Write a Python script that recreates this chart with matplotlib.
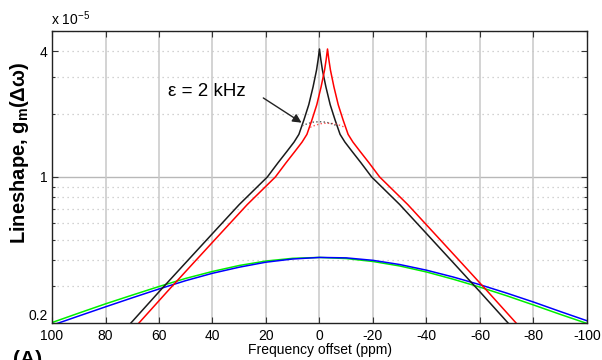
import matplotlib
matplotlib.use("Agg")
import matplotlib.pyplot as plt

plt.rcParams['font.family'] = ['Liberation Sans', 'DejaVu Sans']
plt.rcParams['mathtext.default'] = 'regular'

# lineshapes in units of 1e-5
black_x = [75, 70.5, 60, 50, 40, 30, 19.5, 15.5, 12.1, 9.5, 7.7, 5.8, 4.0, 2.4, 1.1, 0.5, 0,
           -0.5, -1.1, -2.4, -4.0, -5.8, -7.7, -9.5, -12.1, -15.5, -19.5, -30, -40, -50, -60, -70.5, -75]
black_y = [0.175, 0.2, 0.282, 0.389, 0.536, 0.738, 1.0, 1.17, 1.33, 1.47, 1.60, 1.88, 2.22, 2.70, 3.25, 3.65, 4.1,
           3.65, 3.25, 2.70, 2.22, 1.88, 1.60, 1.47, 1.33, 1.17, 1.0, 0.738, 0.536, 0.389, 0.282, 0.2, 0.175]

red_x = [72, 67.5, 57, 47, 37, 27, 16.5, 12.5, 9.1, 6.5, 4.7, 2.8, 1.0, -0.6, -1.9, -2.5, -3,
         -3.5, -4.1, -5.4, -7.0, -8.8, -10.7, -12.5, -15.1, -18.5, -22.5, -33, -43, -53, -63, -73.5, -78]
red_y = [0.175, 0.2, 0.282, 0.389, 0.536, 0.738, 1.0, 1.17, 1.33, 1.47, 1.60, 1.88, 2.22, 2.70, 3.25, 3.65, 4.1,
         3.65, 3.25, 2.70, 2.22, 1.88, 1.60, 1.47, 1.33, 1.17, 1.0, 0.738, 0.536, 0.389, 0.282, 0.2, 0.175]

# broadened tops (eps = 2 kHz)
cap_black_x = [6.5, 4.5, 2.5, 0, -2.5, -4.5, -6.5]
cap_black_y = [1.76, 1.80, 1.83, 1.84, 1.83, 1.80, 1.76]
cap_red_x = [3.5, 1.5, -0.5, -2.5, -5.5, -7.5, -9.5]
cap_red_y = [1.73, 1.77, 1.80, 1.81, 1.80, 1.77, 1.73]

broad_x = [100, 90, 80, 70, 60, 50, 40, 30, 20, 10, 0,
           -10, -20, -30, -40, -50, -60, -70, -80, -90, -100]
green_y = [0.201, 0.223, 0.247, 0.272, 0.299, 0.327, 0.353, 0.377, 0.396, 0.408, 0.412,
           0.407, 0.394, 0.375, 0.351, 0.324, 0.297, 0.270, 0.244, 0.220, 0.199]
blue_y = [0.195, 0.216, 0.239, 0.264, 0.291, 0.319, 0.346, 0.370, 0.391, 0.405, 0.412,
          0.410, 0.399, 0.381, 0.358, 0.332, 0.305, 0.278, 0.252, 0.227, 0.205]

xticks = [100, 80, 60, 40, 20, 0, -20, -40, -60, -80, -100]
yticks = [0.2, 1, 4]
ygrid_dotted = [0.3, 0.4, 0.5, 0.6, 0.7, 0.8, 0.9, 2, 3, 4, 5]

fig = plt.figure(figsize=(6.02, 3.6), dpi=100)
ax = fig.add_axes([0.0864, 0.1028, 0.8886, 0.8111])

ax.set_yscale('log')
ax.set_xlim(100, -100)
ax.set_ylim(0.2, 5)

for v in ygrid_dotted:
    ax.axhline(v, color='#c4c4c4', lw=0.9, ls=(0, (1, 3)), zorder=0)
ax.axhline(1, color='#b8b8b8', lw=1.0, zorder=0)
for v in xticks[1:-1]:
    ax.axvline(v, color='#c8c8c8', lw=1.1, zorder=0)

ax.plot(broad_x, green_y, color='#00ee00', lw=1.1)
ax.plot(broad_x, blue_y, color='#0000ff', lw=1.1)
ax.plot(black_x, black_y, color='#1a1a1a', lw=1.1)
ax.plot(red_x, red_y, color='#ff0000', lw=1.1)
ax.plot(cap_red_x, cap_red_y, color='#ff5555', lw=1.0, ls=':')
ax.plot(cap_black_x, cap_black_y, color='#555555', lw=1.0, ls=':')

ax.text(56.6, 2.58, 'ε = 2 kHz', fontsize=13.5, va='center', ha='left')
ax.annotate('', xy=(6.7, 1.82), xytext=(21.0, 2.39),
            arrowprops=dict(arrowstyle='-|>', color='#222222', lw=1.0,
                            mutation_scale=13, shrinkA=0, shrinkB=0))

ax.set_xticks(xticks)
ax.set_xticklabels([str(v) for v in xticks])
ax.set_yticks(yticks)
ax.set_yticklabels(['0.2', '1', '4'])
ax.get_yticklabels()[0].set_va('bottom')
ax.yaxis.set_minor_locator(matplotlib.ticker.FixedLocator(ygrid_dotted))
ax.yaxis.set_minor_formatter(matplotlib.ticker.NullFormatter())
ax.tick_params(which='both', direction='in', top=True, right=True,
               labelsize=10, length=4, width=0.8, color='#333333')
ax.tick_params(axis='x', pad=4)
ax.tick_params(axis='y', pad=3)
ax.tick_params(which='minor', length=2.5)
for s in ax.spines.values():
    s.set_color('#222222')
    s.set_linewidth(1.0)

fig.text(51 / 602, 1 - 19 / 360, 'x 10$^{-5}$', fontsize=10, va='center', ha='left')
fig.text(20 / 602, 1 - 153 / 360, 'Lineshape, g$_m$(Δω)', fontsize=14.5,
         fontweight='bold', rotation=90, ha='center', va='center')
fig.text(319.5 / 602, 1 - 350 / 360, 'Frequency offset (ppm)', fontsize=10,
         ha='center', va='center')
fig.text(13 / 602, 1 - 350 / 360, '(A)', fontsize=15, fontweight='bold',
         ha='left', va='top')

fig.savefig('out.png', dpi=100)
